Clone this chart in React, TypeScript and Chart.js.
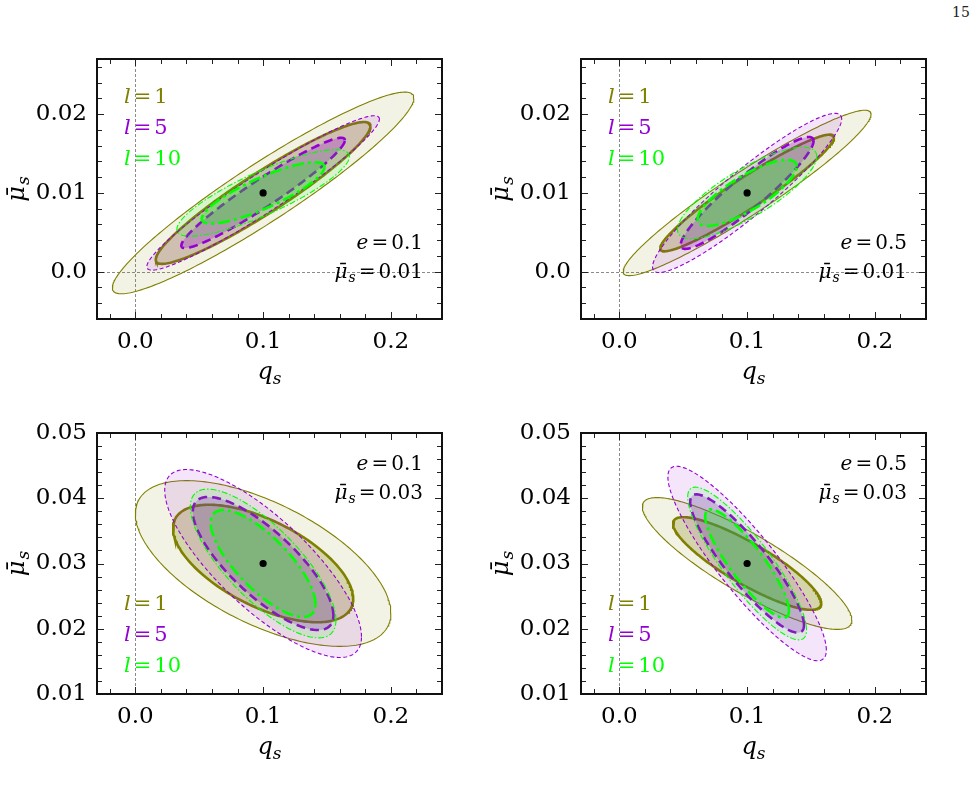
import { useEffect, useRef } from 'react';
import { Chart, registerables } from 'chart.js';

Chart.register(...registerables);

const SERIF = "'DejaVu Serif', serif";
const OLIVE = '#808000';
const PURPLE = '#9400d3';
const GREEN = '#00ff00';

// l values of the three forecasts and their colours / line styles
const lValues = ['1', '5', '10'];
const lColors = [OLIVE, PURPLE, GREEN];
const lFills = ['128,128,0', '148,0,211', '0,255,0'];
const lDashThin = [[], [4, 2.5], [6, 2, 1.5, 2]];
const lDashThick = [[], [9, 5], [12, 4, 3, 4]];

// fiducial point and panel parameters
const qFiducial = 0.1;
const eValues = ['0.1', '0.5', '0.1', '0.5'];
const muFiducials = [0.01, 0.01, 0.03, 0.03];
const muFiducialLabels = ['0.01', '0.01', '0.03', '0.03'];

// axis ranges and ticks
const qRange = [-0.03, 0.24];
const muRangeLow = [-0.006, 0.027];
const muRangeHigh = [0.01, 0.05];
const qTicks = [-0.02, 0, 0.02, 0.04, 0.06, 0.08, 0.1, 0.12, 0.14, 0.16, 0.18, 0.2, 0.22];
const qTickLabels = ['', '0.0', '', '', '', '', '0.1', '', '', '', '', '0.2', ''];
const muTicksLow = [-0.004, -0.002, 0, 0.002, 0.004, 0.006, 0.008, 0.01, 0.012, 0.014, 0.016, 0.018, 0.02, 0.022, 0.024, 0.026];
const muTickLabelsLow = ['', '', '0.0', '', '', '', '', '0.01', '', '', '', '', '0.02', '', '', ''];
const muTicksHigh = [0.01, 0.012, 0.014, 0.016, 0.018, 0.02, 0.022, 0.024, 0.026, 0.028, 0.03, 0.032, 0.034, 0.036, 0.038, 0.04, 0.042, 0.044, 0.046, 0.048, 0.05];
const muTickLabelsHigh = ['0.01', '', '', '', '', '0.02', '', '', '', '', '0.03', '', '', '', '', '0.04', '', '', '', '', '0.05'];

// Contours per l (1, 5, 10): half-extent along q_s, half-extent along mu_s, correlation.
// Panel e=0.1, mu_s=0.01
const qOuterA = [0.118, 0.091, 0.0675];
const muOuterA = [0.0128, 0.0098, 0.0055];
const qInnerA = [0.084, 0.064, 0.048];
const muInnerA = [0.009, 0.007, 0.0039];
const rhoA = [0.94, 0.955, 0.84];
// Panel e=0.5, mu_s=0.01
const qOuterB = [0.097, 0.074, 0.0545];
const muOuterB = [0.0105, 0.0101, 0.0058];
const qInnerB = [0.068, 0.052, 0.0388];
const muInnerB = [0.0074, 0.0071, 0.0042];
const rhoB = [0.95, 0.93, 0.8];
// Panel e=0.1, mu_s=0.03
const qOuterC = [0.1, 0.077, 0.057];
const muOuterC = [0.0127, 0.0144, 0.0114];
const qInnerC = [0.0705, 0.055, 0.041];
const muInnerC = [0.009, 0.0102, 0.0082];
const rhoC = [-0.6, -0.78, -0.76];
// Panel e=0.5, mu_s=0.03
const qOuterD = [0.082, 0.062, 0.0465];
const muOuterD = [0.0101, 0.0149, 0.0117];
const qInnerD = [0.058, 0.0445, 0.0328];
const muInnerD = [0.0071, 0.0106, 0.0083];
const rhoD = [-0.86, -0.89, -0.87];

type Contours = { qO: number[]; muO: number[]; qI: number[]; muI: number[]; rho: number[] };
const contours: Contours[] = [
  { qO: qOuterA, muO: muOuterA, qI: qInnerA, muI: muInnerA, rho: rhoA },
  { qO: qOuterB, muO: muOuterB, qI: qInnerB, muI: muInnerB, rho: rhoB },
  { qO: qOuterC, muO: muOuterC, qI: qInnerC, muI: muInnerC, rho: rhoC },
  { qO: qOuterD, muO: muOuterD, qI: qInnerD, muI: muInnerD, rho: rhoD },
];

// Closed contour of a correlated Gaussian with given half-extents.
function ellipse(cx: number, cy: number, dx: number, dy: number, rho: number) {
  const n = 240;
  const s = Math.sqrt(1 - rho * rho);
  const pts: { x: number; y: number }[] = [];
  for (let i = 0; i <= n; i++) {
    const t = (2 * Math.PI * i) / n;
    pts.push({ x: cx + dx * Math.cos(t), y: cy + dy * (rho * Math.cos(t) + s * Math.sin(t)) });
  }
  return pts;
}

type Run = { text: string; italic?: boolean; sub?: boolean; gap?: number };

function runFont(r: Run, size: number) {
  const sz = r.sub ? Math.round(size * 0.7) : size;
  return `${r.italic ? 'italic ' : ''}${sz}px ${SERIF}`;
}

function mathWidth(ctx: CanvasRenderingContext2D, runs: Run[], size: number) {
  let w = 0;
  for (const r of runs) {
    ctx.font = runFont(r, size);
    w += (r.gap || 0) + ctx.measureText(r.text).width;
  }
  return w;
}

// Draws a run of math-style text; y is the visual middle of the digits.
function drawMath(
  ctx: CanvasRenderingContext2D,
  runs: Run[],
  x: number,
  y: number,
  size: number,
  color: string,
  align: 'left' | 'right' | 'center'
) {
  const w = mathWidth(ctx, runs, size);
  let cx = align === 'left' ? x : align === 'right' ? x - w : x - w / 2;
  const base = y + size * 0.36;
  ctx.save();
  ctx.fillStyle = color;
  ctx.textBaseline = 'alphabetic';
  ctx.textAlign = 'left';
  for (const r of runs) {
    ctx.font = runFont(r, size);
    cx += r.gap || 0;
    ctx.fillText(r.text, cx, r.sub ? base + size * 0.22 : base);
    cx += ctx.measureText(r.text).width;
  }
  ctx.restore();
}

const MU = '\u03bc\u0304';

type PanelCfg = {
  idx: number;
  left: number;
  top: number;
  high: boolean;
};

const panels: PanelCfg[] = [
  { idx: 0, left: 0, top: 0, high: false },
  { idx: 1, left: 484, top: 0, high: false },
  { idx: 2, left: 0, top: 374, high: true },
  { idx: 3, left: 484, top: 374, high: true },
];

const CW = 480;
const CH = 400;

function Panel({ cfg }: { cfg: PanelCfg }) {
  const ref = useRef<HTMLCanvasElement>(null);

  useEffect(() => {
    const i = cfg.idx;
    const c = contours[i];
    const muFid = muFiducials[i];
    const yRange = cfg.high ? muRangeHigh : muRangeLow;
    const yTicks = cfg.high ? muTicksHigh : muTicksLow;
    const yLabels = cfg.high ? muTickLabelsHigh : muTickLabelsLow;
    const plotH = cfg.high ? 261 : 260;

    const datasets: any[] = [];
    const layers: any[] = [];
    for (let k = 0; k < lValues.length; k++) {
      layers.push({
        data: ellipse(qFiducial, muFid, c.qO[k], c.muO[k], c.rho[k]),
        borderColor: lColors[k],
        backgroundColor: `rgba(${lFills[k]},0.1)`,
        borderWidth: 1.1,
        borderDash: lDashThin[k],
      });
      layers.push({
        data: ellipse(qFiducial, muFid, c.qI[k], c.muI[k], c.rho[k]),
        borderColor: lColors[k],
        backgroundColor: `rgba(${lFills[k]},0.25)`,
        borderWidth: 2.6,
        borderDash: lDashThick[k],
      });
    }
    layers.forEach((l, j) => {
      datasets.push({
        ...l,
        fill: 'shape',
        pointRadius: 0,
        tension: 0,
        order: layers.length + 1 - j,
      });
    });
    datasets.push({
      data: [{ x: qFiducial, y: muFid }],
      showLine: false,
      pointRadius: 3.6,
      pointBackgroundColor: '#000',
      pointBorderWidth: 0,
      order: 0,
    });

    const decor = {
      id: 'panelDecor',
      beforeDatasetsDraw(chart: any) {
        const { ctx, chartArea: a, scales } = chart;
        ctx.save();
        ctx.beginPath();
        ctx.rect(a.left, a.top, a.right - a.left, a.bottom - a.top);
        ctx.clip();
        ctx.strokeStyle = '#8a8a8a';
        ctx.lineWidth = 1;
        ctx.setLineDash([3, 2]);
        const x0 = Math.round(scales.x.getPixelForValue(0)) + 0.5;
        ctx.beginPath();
        ctx.moveTo(x0, a.top);
        ctx.lineTo(x0, a.bottom);
        ctx.stroke();
        if (!cfg.high) {
          const y0 = Math.round(scales.y.getPixelForValue(0)) + 0.5;
          ctx.beginPath();
          ctx.moveTo(a.left, y0);
          ctx.lineTo(a.right, y0);
          ctx.stroke();
        }
        ctx.restore();
      },
      afterDatasetsDraw(chart: any) {
        const { ctx, chartArea: a, scales } = chart;
        ctx.save();
        // inward ticks on all four sides
        ctx.strokeStyle = '#222';
        ctx.lineWidth = 1;
        ctx.setLineDash([]);
        for (const t of scales.x.ticks) {
          const px = Math.round(scales.x.getPixelForValue(t.value)) + 0.5;
          const len = t.label ? 7 : 5;
          ctx.beginPath();
          ctx.moveTo(px, a.bottom);
          ctx.lineTo(px, a.bottom - len);
          ctx.moveTo(px, a.top);
          ctx.lineTo(px, a.top + len);
          ctx.stroke();
        }
        for (const t of scales.y.ticks) {
          const py = Math.round(scales.y.getPixelForValue(t.value)) + 0.5;
          const len = t.label ? 7 : 5;
          ctx.beginPath();
          ctx.moveTo(a.left, py);
          ctx.lineTo(a.left + len, py);
          ctx.moveTo(a.right, py);
          ctx.lineTo(a.right - len, py);
          ctx.stroke();
        }
        // frame
        ctx.strokeStyle = '#111';
        ctx.lineWidth = 2;
        ctx.strokeRect(a.left, a.top, a.right - a.left, a.bottom - a.top);
        ctx.restore();

        // legend of l values
        const legTop = cfg.high ? a.top + 169 : a.top + 36;
        lValues.forEach((lv, k) => {
          drawMath(
            ctx,
            [{ text: 'l', italic: true }, { text: '=', gap: 3 }, { text: lv, gap: 3 }],
            a.left + 27,
            legTop + k * 31,
            21,
            lColors[k],
            'left'
          );
        });

        // panel parameters
        const annTop = cfg.high ? a.top + 30 : a.top + 183;
        drawMath(
          ctx,
          [{ text: 'e', italic: true }, { text: '=', gap: 3 }, { text: eValues[i], gap: 3 }],
          a.right - 19,
          annTop,
          20,
          '#000',
          'right'
        );
        drawMath(
          ctx,
          [
            { text: MU, italic: true },
            { text: 's', italic: true, sub: true, gap: 1 },
            { text: '=', gap: 3 },
            { text: muFiducialLabels[i], gap: 3 },
          ],
          a.right - 19,
          annTop + 28.5,
          20,
          '#000',
          'right'
        );

        // axis titles
        drawMath(
          ctx,
          [{ text: 'q', italic: true }, { text: 's', italic: true, sub: true }],
          (a.left + a.right) / 2,
          a.bottom + 51,
          24,
          '#000',
          'center'
        );
        ctx.save();
        ctx.translate(a.left - 82, (a.top + a.bottom) / 2);
        ctx.rotate(-Math.PI / 2);
        drawMath(
          ctx,
          [{ text: MU, italic: true }, { text: 's', italic: true, sub: true, gap: 1 }],
          0,
          0,
          24,
          '#000',
          'center'
        );
        ctx.restore();
      },
    };

    const chart = new Chart(ref.current as HTMLCanvasElement, {
      type: 'line',
      data: { datasets },
      options: {
        responsive: false,
        maintainAspectRatio: false,
        animation: false,
        events: [],
        layout: {
          padding: { left: 17, top: 59, right: CW - 97 - 345, bottom: CH - 59 - plotH - 40 },
        },
        plugins: { legend: { display: false }, tooltip: { enabled: false } },
        scales: {
          x: {
            type: 'linear',
            min: qRange[0],
            max: qRange[1],
            grid: { display: false, drawTicks: false },
            border: { display: false },
            afterBuildTicks: (s: any) => {
              s.ticks = qTicks.map((v) => ({ value: v }));
            },
            afterFit: (s: any) => {
              s.height = 40;
            },
            ticks: {
              autoSkip: false,
              maxRotation: 0,
              minRotation: 0,
              padding: 9,
              color: '#000',
              font: { family: SERIF, size: 23 },
              callback: (_v: any, idx: number) => qTickLabels[idx],
            },
          },
          y: {
            type: 'linear',
            min: yRange[0],
            max: yRange[1],
            grid: { display: false, drawTicks: false },
            border: { display: false },
            afterBuildTicks: (s: any) => {
              s.ticks = yTicks.map((v) => ({ value: v }));
            },
            afterFit: (s: any) => {
              s.width = 80;
            },
            ticks: {
              autoSkip: false,
              padding: 10,
              color: '#000',
              font: { family: SERIF, size: 23 },
              callback: (_v: any, idx: number) => yLabels[idx],
            },
          },
        },
      } as any,
      plugins: [decor],
    });
    return () => chart.destroy();
  }, [cfg]);

  return (
    <canvas
      ref={ref}
      width={CW}
      height={CH}
      style={{ position: 'absolute', left: cfg.left, top: cfg.top, width: CW, height: CH }}
    />
  );
}

export default function App() {
  return (
    <div style={{ position: 'absolute', left: 0, top: 0, width: 978, height: 793, background: '#fff' }}>
      <div
        style={{
          position: 'absolute',
          left: 952,
          top: 4,
          fontFamily: SERIF,
          fontSize: 14,
          color: '#222',
        }}
      >
        15
      </div>
      {panels.map((p) => (
        <Panel key={p.idx} cfg={p} />
      ))}
    </div>
  );
}
